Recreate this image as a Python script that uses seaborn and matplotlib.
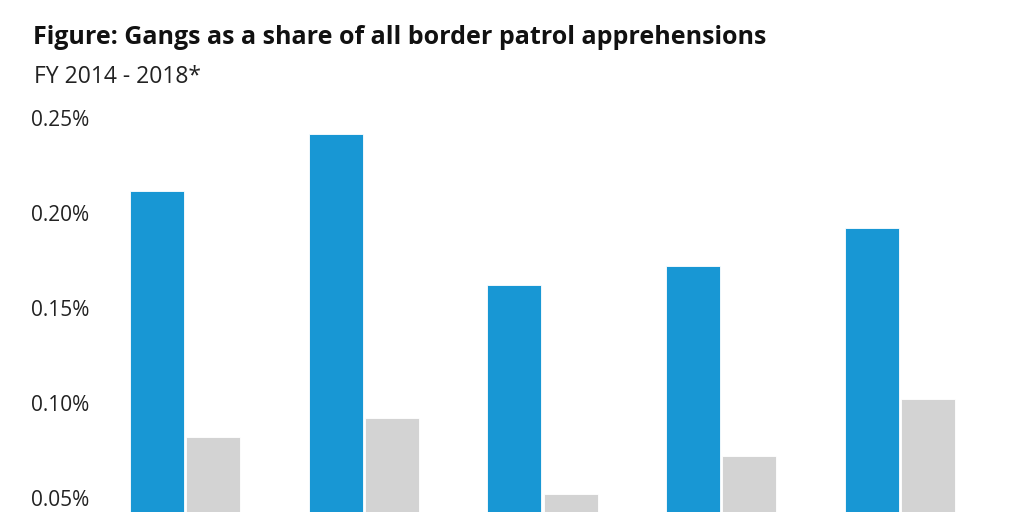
import matplotlib
matplotlib.use("Agg")
import matplotlib.pyplot as plt
from matplotlib.ticker import FuncFormatter, FixedLocator
import seaborn as sns
import pandas as pd

# Data (percent of all border patrol apprehensions)
years = ["FY 2014", "FY 2015", "FY 2016", "FY 2017", "FY 2018*"]
series_names = ["Series 1", "Series 2"]
series_1 = [0.212, 0.242, 0.162, 0.172, 0.192]
series_2 = [0.082, 0.092, 0.052, 0.072, 0.102]
tick_values = [0.05, 0.10, 0.15, 0.20, 0.25]

title = "Figure: Gangs as a share of all border patrol apprehensions"
subtitle = "FY 2014 - 2018*"

df = pd.DataFrame({
    "year": years * 2,
    "series": [series_names[0]] * len(years) + [series_names[1]] * len(years),
    "value": series_1 + series_2,
})

sns.set_theme(style="white")
plt.rcParams["font.family"] = ["Open Sans", "DejaVu Sans"]

W, H = 1024, 512
fig = plt.figure(figsize=(W / 100, H / 100), dpi=100)
ax_left, ax_right, ax_top = 96, 989, 100
ax = fig.add_axes([ax_left / W, 0, (ax_right - ax_left) / W, 1 - ax_top / H])

palette = {series_names[0]: "#1897D4", series_names[1]: "#D3D3D3"}
sns.barplot(data=df, x="year", y="value", hue="series", palette=palette,
            width=0.63, gap=0.04, edgecolor="white", linewidth=0.6,
            saturation=1, legend=False, ax=ax)

# y scale: 0.05 at pixel 497.5, 1895 px per unit
px_per_unit = 1895.0
y_ref_px, y_ref_val = 497.5, 0.05
ymin = y_ref_val - (H - y_ref_px) / px_per_unit
ymax = y_ref_val + (y_ref_px - ax_top) / px_per_unit
ax.set_ylim(ymin, ymax)
ax.set_xlim(-0.5, len(years) - 0.5)

ax.yaxis.set_major_locator(FixedLocator(tick_values))
ax.yaxis.set_major_formatter(FuncFormatter(lambda v, p: f"{v:.2f}%"))
ax.tick_params(axis="y", length=0, pad=5, labelsize=15, labelcolor="#222222")
ax.tick_params(axis="x", length=0, labelbottom=False)
ax.set_xlabel("")
ax.set_ylabel("")
for s in ax.spines.values():
    s.set_visible(False)
ax.grid(False)

fig.text(33 / W, 1 - 44 / H, title, fontsize=18, fontweight="bold",
         color="#111111", ha="left", va="baseline")
fig.text(34 / W, 1 - 83 / H, subtitle, fontsize=16.5, color="#222222",
         ha="left", va="baseline")

fig.savefig("out.png", dpi=100)
